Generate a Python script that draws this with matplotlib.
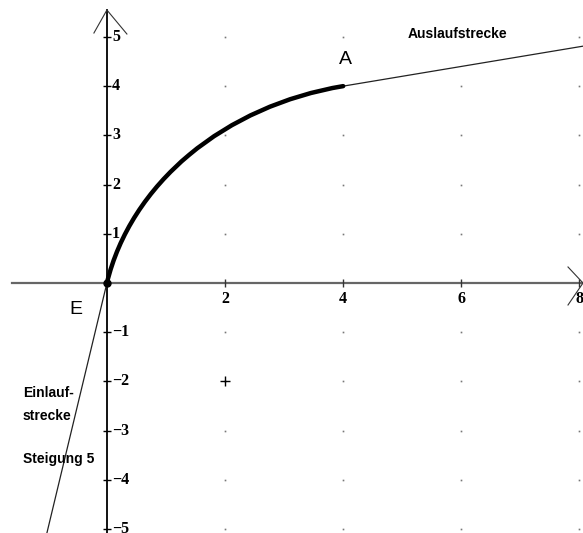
import numpy as np
import matplotlib
matplotlib.use("Agg")
import matplotlib.pyplot as plt
from matplotlib.patches import Arc

# data
x_ticks = [2, 4, 6, 8]
y_ticks = [-5, -4, -3, -2, -1, 1, 2, 3, 4, 5]
grid_x = [2, 4, 6, 8]
grid_y = [-5, -4, -3, -2, -1, 1, 2, 3, 4, 5]
E = (0, 0)
A = (4, 4)
inlet_slope = 5.0
outlet_slope = 0.2
arc_center = (5, -1)
arc_radius = np.sqrt(26)
cross_pt = (2, -2)

xmin, xmax = -1.81, 8.06
ymin, ymax = -5.08, 5.75
px = 1 / 59.1   # data units per pixel, x
py = 1 / 49.2   # data units per pixel, y

fig = plt.figure(figsize=(5.83, 5.33), dpi=100)
ax = fig.add_axes([0, 0, 1, 1])
ax.set_xlim(xmin, xmax)
ax.set_ylim(ymin, ymax)
ax.axis("off")

# grid dots
gx, gy = np.meshgrid(grid_x, grid_y)
ax.plot(gx.ravel(), gy.ravel(), ls="none", marker="s", ms=1.2, color="#777777", mew=0)

# axes
ax.plot([xmin + 12 * px, xmax], [0, 0], color="#666666", lw=1.6, zorder=2)
ax.plot([0, 0], [ymin, ymax - 10 * py], color="black", lw=1.3, zorder=2)
# arrow heads
ax.plot([-13 * px, 0, 20 * px], [ymax - 33 * py, ymax - 10 * py, ymax - 34 * py], color="#333333", lw=0.8)
ax.plot([xmax - 15 * px, xmax, xmax - 15 * px], [16 * py, 0, -22 * py], color="#333333", lw=0.8)

# ticks
ax.plot(x_ticks, [0] * len(x_ticks), ls="none", marker="|", ms=6, mew=1, color="#333333")
ax.plot([0] * len(y_ticks), y_ticks, ls="none", marker="_", ms=6, mew=1, color="black")

tick_font = dict(family="Liberation Serif", weight="bold", size=11.5)
for t in x_ticks:
    ax.text(t, -8 * py, str(t), ha="center", va="top", **tick_font)
for t in y_ticks:
    lab = str(t).replace("-", "\u2212")
    ax.text(5 * px, t, lab, ha="left", va="center", **tick_font)

# inlet and outlet lines
ax.plot([E[0], ymin / inlet_slope], [E[1], ymin], color="#222222", lw=0.9)
ax.plot([A[0], xmax], [A[1], A[1] + outlet_slope * (xmax - A[0])], color="#222222", lw=0.9)

# curve E -> A (circle arc tangent to both lines)
t1 = np.degrees(np.arctan2(A[1] - arc_center[1], A[0] - arc_center[0]))
t2 = np.degrees(np.arctan2(E[1] - arc_center[1], E[0] - arc_center[0]))
ax.add_patch(Arc(arc_center, 2 * arc_radius, 2 * arc_radius, theta1=t1, theta2=t2,
                 color="black", lw=3.2, capstyle="round", zorder=4))
ax.plot(*E, marker="o", ms=5, color="black", zorder=5)

ax.plot(*cross_pt, marker="+", ms=7, mew=1, color="black")

# labels
ax.text(4.03, 4.45, "A", ha="center", va="baseline", family="Liberation Sans", size=14)
ax.text(-0.52, -0.62, "E", ha="center", va="baseline", family="Liberation Sans", size=14)
lab_font = dict(family="Liberation Sans", weight="bold", size=10)
ax.text(5.94, 4.98, "Auslaufstrecke", ha="center", va="baseline", **lab_font)
ax.text(-1.42, -2.32, "Einlauf-", ha="left", va="baseline", **lab_font)
ax.text(-1.42, -2.78, "strecke", ha="left", va="baseline", **lab_font)
ax.text(-1.42, -3.66, "Steigung 5", ha="left", va="baseline", **lab_font)

fig.savefig("out.png", dpi=100)
